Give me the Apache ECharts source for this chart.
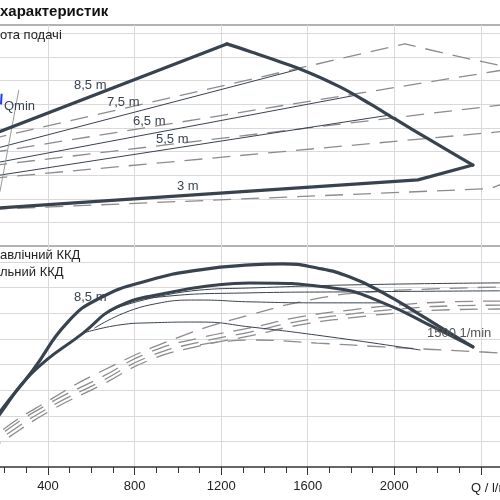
<!DOCTYPE html>
<html>
<head>
<meta charset="utf-8">
<script src="https://cdn.jsdelivr.net/npm/echarts@6/dist/echarts.min.js"></script>
<style>
  html, body { margin: 0; padding: 0; background: #fff; }
  #chart { width: 500px; height: 500px; }
</style>
</head>
<body>
<div id="chart"></div>
<script>
// Q in l/min, H in m (top panel), efficiency in % (bottom panel)
const xTicks = [400, 800, 1200, 1600, 2000];

// top panel: operating range of the pump (thick outline, three parts)
const envLow = [[0, 1.51], [2109, 2.80], [2363, 3.43]];
const envMax = [[2363, 3.43], [2165, 4.49], [2003, 5.38], [1888, 6.02], [1749, 6.74], [1564, 7.50],
  [1333, 8.24], [1226, 8.56]];
const envTop = [[1226, 8.56], [0, 4.22]];
const head75 = [[0, 3.75], [1564, 7.50]];
const head65 = [[0, 3.25], [1818, 6.38]];
const head55 = [[0, 2.75], [1975, 5.54]];
const dash85 = [[0, 4.25], [2049, 8.56], [2250, 8.12], [2500, 7.62]];
const dash75 = [[0, 3.75], [2500, 7.45]];
const dash65 = [[0, 3.25], [2500, 5.98]];
const dash55 = [[0, 2.75], [2500, 4.85]];
const dash3 = [[0, 1.5], [2442, 2.43], [2500, 2.64]];
const qmin = [[178, 2.3], [265, 6.6]];
const qminMark = [[186, 6.45], [183, 6.0]];

// bottom panel: efficiency curves
const effHydMax = [[0, 0], [178, 21.5], [331, 37.9], [488, 56.3], [640, 66.0], [871, 73.0], [1102, 77.0],
  [1333, 78.9], [1486, 79.3], [1643, 77.7], [1795, 74.2], [1948, 68.0], [2105, 60.2], [2257, 52.3], [2363, 46.9]];
const effHyd85 = [[0, 0], [178, 20.7], [331, 37.1], [562, 52.3], [719, 62.5], [950, 68.0], [1181, 71.1],
  [1333, 71.9], [1717, 69.9], [1948, 64.1], [2179, 54.7], [2363, 46.9]];
const effThinA = [[562, 52.3], [733, 55.5], [871, 56.3], [1102, 56.6], [1333, 54.7], [1703, 50.8], [2119, 45.7]];
const effThinB = [[616, 54.3], [871, 63.3], [1102, 65.2], [1333, 64.5], [1657, 64.1], [1948, 64.1]];
const effThinC = [[640, 58.2], [871, 66.0], [1333, 68.0], [1795, 68.4], [2488, 68.8]];
const effThinD = [[686, 61.3], [1102, 69.1], [1333, 69.9], [1795, 71.1], [2488, 71.9]];
const effTotA = [[0, 0], [178, 13.7], [409, 26.2], [640, 37.1], [996, 50.4], [1333, 59.4], [1657, 66.0],
  [1902, 68.4], [2165, 69.5], [2488, 70.3]];
const effTotB = [[0, 0], [178, 12.5], [409, 25.0], [640, 34.8], [871, 44.9], [1102, 50.4], [1333, 54.3],
  [1564, 58.6], [1795, 61.3], [2026, 63.3], [2257, 64.5], [2488, 64.8]];
const effTotC = [[0, 0], [178, 10.9], [409, 23.4], [640, 33.2], [871, 43.3], [1102, 48.8], [1333, 52.7],
  [1564, 57.0], [1795, 59.7], [2026, 61.7], [2257, 62.9], [2488, 63.2]];
const effTotD = [[0, 0], [178, 9.4], [409, 21.9], [640, 31.7], [871, 41.8], [1102, 47.3], [1333, 51.2],
  [1564, 55.5], [1795, 58.2], [2026, 60.2], [2257, 61.4], [2488, 61.7]];
const effTotE = [[1102, 47.7], [1333, 49.6], [1643, 48.4], [1948, 46.9], [2410, 44.9], [2488, 44.5]];

const dark = '#38434f';
const dashGrey = '#8c8c8c';
const gridGrey = '#d9d9d9';

function solid(data, width, g, smooth) {
  return { type: 'line', data, xAxisIndex: g, yAxisIndex: g, showSymbol: false, smooth: smooth || false,
    lineStyle: { color: dark, width, cap: 'round', join: 'round' }, silent: true, z: 3 };
}
function dashed(data, g, smooth) {
  return { type: 'line', data, xAxisIndex: g, yAxisIndex: g, showSymbol: false, smooth: smooth || false,
    lineStyle: { color: dashGrey, width: 1.3, type: [18, 10] }, silent: true, z: 2 };
}
function note(text, x, y, opts) {
  return Object.assign({ type: 'text', x, y, style: { text, fill: dark, font: '13px "Liberation Sans", Arial, sans-serif',
    textVerticalAlign: 'middle' }, z: 10 }, opts || {});
}
function plain(text, x, y, fill) {
  return { type: 'text', x, y, z: 10, style: { text, fill: fill || '#222',
    font: '13px "Liberation Sans", Arial, sans-serif', textVerticalAlign: 'middle' } };
}

const chart = echarts.init(document.getElementById('chart'));
chart.setOption({
  animation: false,
  grid: [
    { left: -38.6, right: -67.5, top: 25, height: 221, show: true, borderColor: '#666', borderWidth: 1,
      outerBoundsMode: 'none', containLabel: false },
    { left: -38.6, right: -67.5, top: 246, height: 221, outerBoundsMode: 'none', containLabel: false }
  ],
  xAxis: [
    { gridIndex: 0, type: 'value', min: 0, max: 2800, interval: 400,
      axisLine: { show: false }, axisTick: { show: false }, axisLabel: { show: false },
      splitLine: { lineStyle: { color: gridGrey } } },
    { gridIndex: 1, type: 'value', min: 0, max: 2800, interval: 400,
      axisLine: { onZero: false, lineStyle: { color: '#333', width: 1.5 } },
      axisTick: { length: 8, lineStyle: { color: '#333' } },
      minorTick: { show: true, splitNumber: 4, length: 6, lineStyle: { color: '#333' } },
      axisLabel: { margin: 13, fontSize: 13, color: '#222', fontFamily: 'Liberation Sans',
        formatter: v => xTicks.includes(v) ? String(v) : '' },
      splitLine: { lineStyle: { color: gridGrey } } }
  ],
  yAxis: [
    { gridIndex: 0, type: 'value', min: 0, max: 9.36, interval: 1,
      axisLine: { show: false }, axisTick: { show: false }, axisLabel: { show: false },
      splitLine: { showMinLine: false, showMaxLine: false, lineStyle: { color: gridGrey } } },
    { gridIndex: 1, type: 'value', min: 0, max: 86.3, interval: 10,
      axisLine: { show: false }, axisTick: { show: false }, axisLabel: { show: false },
      splitLine: { showMinLine: false, showMaxLine: false, lineStyle: { color: gridGrey } } }
  ],
  series: [
    dashed(dash85, 0), dashed(dash75, 0), dashed(dash65, 0), dashed(dash55, 0), dashed(dash3, 0),
    solid(head75, 1, 0), solid(head65, 1, 0), solid(head55, 1, 0),
    { type: 'line', data: qmin, showSymbol: false, silent: true, lineStyle: { color: '#999', width: 1 } },
    { type: 'line', data: qminMark, showSymbol: false, silent: true, lineStyle: { color: '#1f3fd6', width: 2 } },
    solid(envLow, 3.2, 0), solid(envMax, 3.2, 0, 0.3), solid(envTop, 3.2, 0),
    dashed(effTotA, 1, true), dashed(effTotB, 1, true), dashed(effTotC, 1, true), dashed(effTotD, 1, true),
    dashed(effTotE, 1, true),
    solid(effThinA, 1, 1, true), solid(effThinB, 1, 1, true), solid(effThinC, 1, 1, true), solid(effThinD, 1, 1, true),
    solid(effHyd85, 3, 1, true), solid(effHydMax, 3.2, 1, true)
  ],
  graphic: [
    { type: 'text', x: 0, y: 12, z: 10, style: { text: 'характеристик', fill: '#111',
      font: 'bold 15px "Liberation Sans", Arial, sans-serif', textVerticalAlign: 'middle' } },
    plain('ота подачі', 0, 35),
    note('Qmin', 4, 106),
    note('8,5 m', 74, 85),
    note('7,5 m', 107, 102),
    note('6,5 m', 133, 121),
    note('5,5 m', 156, 139),
    note('3 m', 177, 186),
    plain('авлічний ККД', 0, 255),
    plain('льний ККД', 0, 272),
    note('8,5 m', 74, 297),
    plain('1500 1/min', 427, 333, '#555'),
    plain('Q / l/min', 471, 488)
  ]
});
</script>
</body>
</html>
